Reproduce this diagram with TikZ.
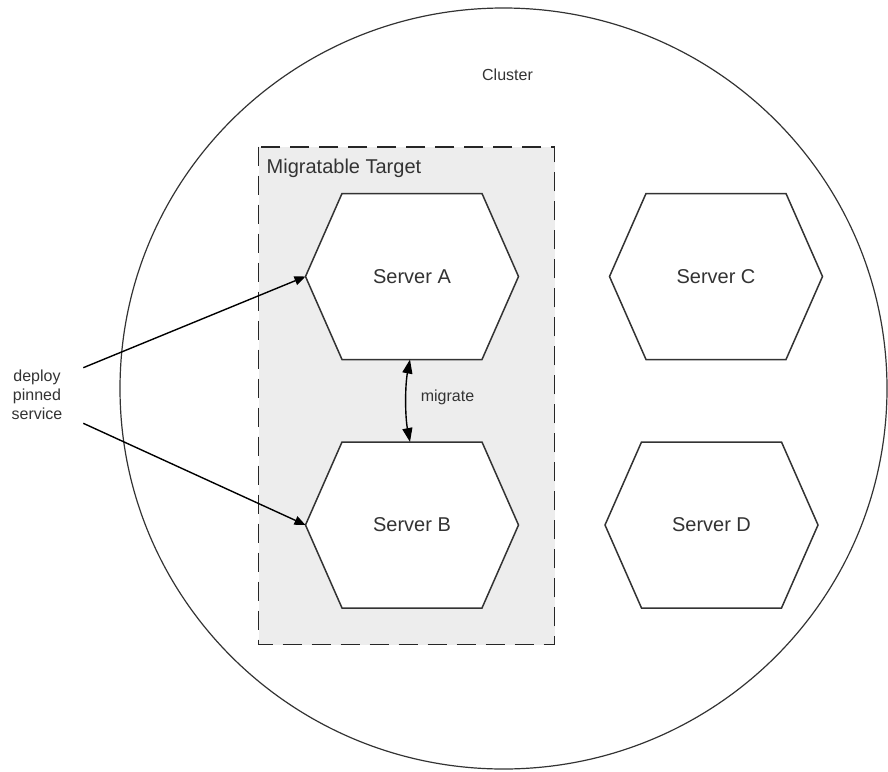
\documentclass[tikz,border=0pt]{standalone}
\usepackage{fontspec}
\setmainfont{Liberation Sans}
\usetikzlibrary{arrows.meta}
\definecolor{ink}{HTML}{333333}
\definecolor{tgtfill}{HTML}{EDEDED}
\newcommand{\srvhex}[4]{%
  \draw[hexline] (#2-106.5,#3) coordinate (#1-w) -- (#2-70,#3-83) -- (#2+70,#3-83)
     -- (#2+106.5,#3) coordinate (#1-e) -- (#2+70,#3+83) -- (#2-70,#3+83) -- cycle;
  \coordinate (#1-n) at (#2,#3-83);
  \coordinate (#1-s) at (#2,#3+83);
  \node[lbl] (#1) at (#2,#3) {#4};}
\begin{document}
\begin{tikzpicture}[x=1pt,y=-1pt,
  hexline/.style={draw=ink, line width=1.5pt, fill=white, line join=miter},
  lbl/.style={text=ink, inner sep=0pt, font=\fontsize{20}{24}\selectfont},
  small/.style={text=ink, inner sep=0pt, font=\fontsize{16}{19}\selectfont},
  conn/.style={draw=black, line width=1.4pt, -{Triangle[length=11pt,width=9pt]}},
  migconn/.style={draw=black, line width=1.4pt, {Triangle[length=14pt,width=10pt]}-{Triangle[length=14pt,width=10pt]}},
  clusterline/.style={draw=ink, line width=1.2pt},
  target/.style={draw=black!85, fill=tgtfill, line width=1.9pt, dash pattern=on 19pt off 10pt},
]
\useasboundingbox (0,0) rectangle (888,771);
% cluster
\draw[clusterline] (503.5,388.5) ellipse [x radius=383.5pt, y radius=380.5pt];
\node[small, anchor=base] (cluster) at (507.5,80) {Cluster};
% migratable target
\draw[target] (258.5,146.7) coordinate (tnw) rectangle (554.5,644.5) coordinate (tse);
\node[lbl, anchor=base west] (tlabel) at (266.5,173.3) {Migratable Target};
% servers
\srvhex{A}{412}{276.5}{Server A}
\srvhex{B}{412}{525}{Server B}
\srvhex{C}{716}{276.5}{Server C}
\srvhex{D}{711.5}{525}{Server D}
% migrate
\draw[migconn] ([xshift=-2pt]A-s) .. controls +(-5,26) and +(-5,-26) .. ([xshift=-2pt]B-n);
\node[small, anchor=base] (mig) at (447.5,401) {migrate};
% deploy
\node[small, align=center, anchor=north] (dep) at (37,370) {deploy\\pinned\\service};
\coordinate (d1) at (83.3,367.7);
\coordinate (d2) at (83.3,423.3);
\draw[conn] (d1) -- (A-w);
\draw[conn] (d2) -- (B-w);
\end{tikzpicture}
\end{document}
